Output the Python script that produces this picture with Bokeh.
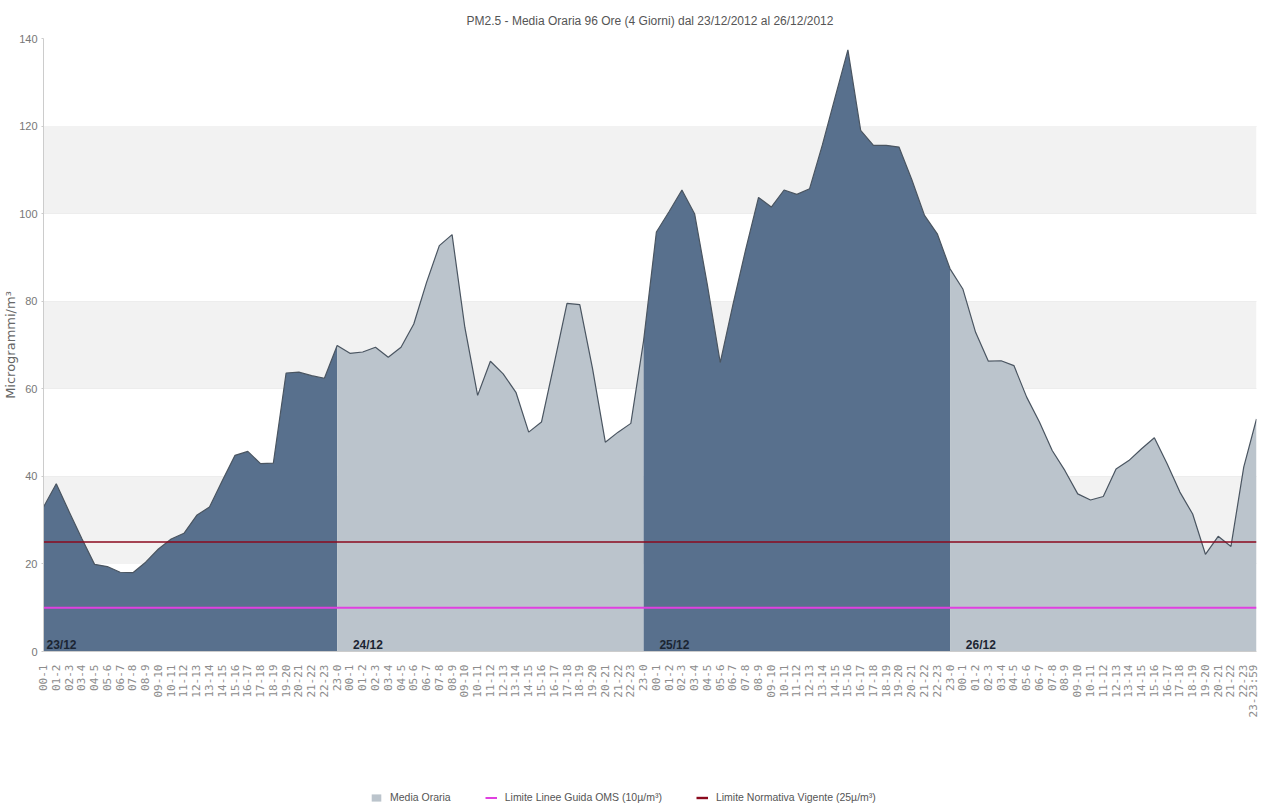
import math
from bokeh.plotting import figure
from bokeh.layouts import column
from bokeh.models import (ColumnDataSource, Legend, LegendItem, BoxAnnotation,
                          FixedTicker)
from bokeh.embed import file_html
from bokeh.resources import INLINE
from bokeh.core.properties import value

# ---------------- data ----------------
title_text = "PM2.5 - Media Oraria 96 Ore (4 Giorni) dal 23/12/2012 al 26/12/2012"
days = ["23/12", "24/12", "25/12", "26/12"]
hour_labels = ["00-1", "01-2", "02-3", "03-4", "04-5", "05-6", "06-7", "07-8",
               "08-9", "09-10", "10-11", "11-12", "12-13", "13-14", "14-15",
               "15-16", "16-17", "17-18", "18-19", "19-20", "20-21", "21-22",
               "22-23", "23-0"]
last_label = "23-23:59"

day1 = [33.0, 38.3, 32.0, 25.8, 19.9, 19.4, 18.1, 18.0, 20.4, 23.4, 25.7, 27.0,
        31.1, 33.0, 39.0, 44.8, 45.7, 42.9, 43.0, 63.6, 63.8, 63.0, 62.4, 69.9]
day2 = [68.1, 68.4, 69.5, 67.2, 69.5, 74.8, 84.3, 92.7, 95.2, 74.0, 58.5, 66.3,
        63.4, 59.2, 50.1, 52.4, 65.8, 79.5, 79.2, 64.6, 47.8, 50.1, 52.1, 71.0]
day3 = [95.8, 100.5, 105.4, 99.9, 83.6, 66.0, 79.3, 91.9, 103.7, 101.5, 105.4, 104.4,
        105.7, 115.7, 126.6, 137.4, 119.0, 115.6, 115.6, 115.2, 107.8, 99.6, 95.4, 87.4]
day4 = [82.8, 72.9, 66.3, 66.4, 65.3, 58.1, 52.4, 45.9, 41.3, 36.0, 34.6, 35.4,
        41.7, 43.6, 46.3, 48.8, 42.9, 36.4, 31.4, 22.2, 26.3, 24.0, 42.1, 53.1]

oms_limit = 10      # Limite Linee Guida OMS
legal_limit = 25    # Limite Normativa Vigente
y_ticks = [0, 20, 40, 60, 80, 100, 120, 140]
band_ranges = [(20, 40), (60, 80), (100, 120)]
legend_labels = ["Media Oraria", "Limite Linee Guida OMS (10µ/m³)",
                 "Limite Normativa Vigente (25µ/m³)"]

# ---------------- derived ----------------
pm25 = day1 + day2 + day3 + day4
n = len(pm25)
xs = list(range(n))
tick_labels = hour_labels * 3 + hour_labels[:-1] + [last_label]

DARK = "#58708d"
LIGHT = "#bbc4cc"
OMS_COLOR = "#e040e0"
LEGAL_COLOR = "#8b0a1e"
day_colors = [DARK, LIGHT, DARK, LIGHT]

p = figure(frame_width=1213, frame_height=613, output_backend="svg",
           toolbar_location=None,
           x_range=(0, n - 1), y_range=(0, 140),
           min_border_left=36, min_border_right=3, min_border_top=38,
           min_border_bottom=130)
p.background_fill_color = "white"
p.border_fill_color = "white"
p.outline_line_color = None

# alternating bands
for lo, hi in band_ranges:
    p.add_layout(BoxAnnotation(bottom=lo, top=hi, fill_color="#f2f2f2",
                               fill_alpha=1.0, line_alpha=0, level="underlay"))

# day areas
for d in range(4):
    start = 0 if d == 0 else 24 * d - 1
    end = 24 * d + 23
    src = ColumnDataSource(dict(x=xs[start:end + 1], y=pm25[start:end + 1]))
    p.varea(x="x", y1=0, y2="y", source=src, fill_color=day_colors[d], fill_alpha=1.0)

# outline
p.line(xs, pm25, line_color="#4a5561", line_width=1.2)

# limits
p.line([0, n - 1], [oms_limit, oms_limit], line_color=OMS_COLOR, line_width=2)
p.line([0, n - 1], [legal_limit, legal_limit], line_color=LEGAL_COLOR, line_width=1.6)

# day labels
p.text(x=[24 * d for d in range(4)], y=[1.4] * 4, text=days, x_offset=3,
       text_font=value("Liberation Sans"), text_font_size="12px",
       text_font_style="bold", text_color="#1b2533", text_baseline="alphabetic")

# title
p.title.text = title_text
p.title.align = "center"
p.title.offset = -9
p.title.text_font = "Liberation Sans"
p.title.text_font_size = "12px"
p.title.text_font_style = "normal"
p.title.text_color = "#555555"
p.title.standoff = 22

# grid
p.xgrid.grid_line_color = None
p.ygrid.grid_line_color = "#dedede"
p.ygrid.ticker = FixedTicker(ticks=y_ticks)

# y axis
p.yaxis.ticker = FixedTicker(ticks=y_ticks)
p.yaxis.axis_label = "Microgrammi/m³"
p.yaxis.axis_label_text_font = "DejaVu Sans"
p.yaxis.axis_label_text_font_size = "13px"
p.yaxis.axis_label_text_font_style = "normal"
p.yaxis.axis_label_text_color = "#666666"
p.yaxis.axis_label_standoff = -2
p.yaxis.major_label_text_font = "Liberation Sans"
p.yaxis.major_label_text_font_size = "11px"
p.yaxis.major_label_text_color = "#777777"
p.yaxis.major_label_standoff = 4
p.yaxis.major_tick_out = 2
p.yaxis.major_tick_in = 0
p.yaxis.minor_tick_line_color = None
p.yaxis.major_tick_line_color = "#cccccc"
p.yaxis.axis_line_color = "#cccccc"

# x axis
p.xaxis.ticker = FixedTicker(ticks=xs)
p.xaxis.major_label_overrides = {i: tick_labels[i] for i in xs}
p.xaxis.major_label_orientation = math.pi / 2
p.xaxis.major_label_text_font = "DejaVu Sans Mono"
p.xaxis.major_label_text_font_size = "11px"
p.xaxis.major_label_text_color = "#8c8c8c"
p.xaxis.major_label_standoff = 9
p.xaxis.major_tick_out = 4
p.xaxis.major_tick_in = 0
p.xaxis.major_tick_line_color = None
p.xaxis.minor_tick_line_color = None
p.xaxis.axis_line_color = "#cccccc"

# ---------------- legend strip (own small figure) ----------------
lf = figure(width=1252, height=24, output_backend="svg", toolbar_location=None,
            x_axis_type=None, y_axis_type=None,
            x_range=(0, n - 1), y_range=(-2, -1),   # series kept out of view: only the legend shows
            min_border=0, min_border_left=0, min_border_right=0,
            min_border_top=0, min_border_bottom=0)
lf.outline_line_color = None
lf.background_fill_color = "white"
lf.border_fill_color = "white"
lf_area = lf.varea(x=xs, y1=0, y2=pm25, fill_color=LIGHT)
lf_oms = lf.line([0, n - 1], [oms_limit, oms_limit], line_color=OMS_COLOR, line_width=2)
lf_legal = lf.line([0, n - 1], [legal_limit, legal_limit], line_color=LEGAL_COLOR,
                   line_width=2.4)

legend = Legend(items=[
    LegendItem(label=legend_labels[0], renderers=[lf_area]),
    LegendItem(label=legend_labels[1], renderers=[lf_oms]),
    LegendItem(label=legend_labels[2], renderers=[lf_legal]),
], orientation="horizontal", location=(326, 1))
legend.label_text_font = "Liberation Sans"
legend.label_text_font_size = "10.5px"
legend.label_text_color = "#555555"
legend.glyph_width = 12
legend.glyph_height = 9
legend.label_standoff = 8
legend.spacing = 34
legend.padding = 1
legend.margin = 0
legend.border_line_alpha = 0
legend.background_fill_alpha = 0
lf.add_layout(legend, "center")

layout = column(p, lf, spacing=0)
open("out.html", "w").write(file_html(layout, INLINE))
